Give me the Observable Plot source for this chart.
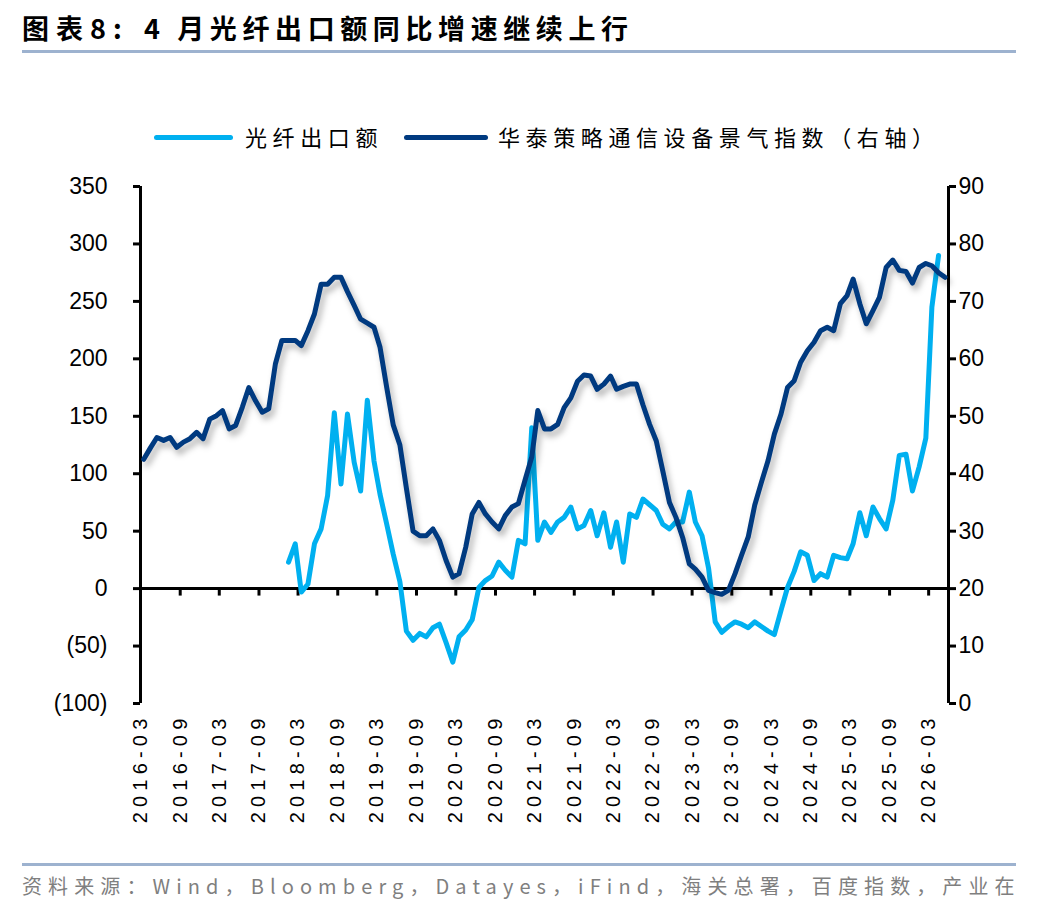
<!DOCTYPE html>
<html>
<head>
<meta charset="utf-8">
<script src="https://cdn.jsdelivr.net/npm/d3@7"></script>
<script src="https://cdn.jsdelivr.net/npm/@observablehq/plot@0.6"></script>
<style>
  body { margin: 0; background: #fff; }
  #page { position: relative; width: 1048px; height: 916px; overflow: hidden;
          font-family: "Noto Sans CJK SC", "Noto Sans", sans-serif; color: #000; }
  .title { position: absolute; top: 14px; font-size: 27px; font-weight: bold; letter-spacing: 5.6px; line-height: 1; white-space: nowrap; }
  .rule { position: absolute; left: 22px; width: 994px; height: 3px; background: #9db2cf; }
  .swatch { position: absolute; height: 5px; border-radius: 3px; top: 135px; }
  .ltext { position: absolute; top: 125px; font-size: 22px; letter-spacing: 5.6px; line-height: 1; white-space: nowrap; }
  #chart { position: absolute; left: 0; top: 160px; }
  .caption { position: absolute; left: 22px; top: 876px; font-size: 20px; color: #7f7f7f; letter-spacing: 6.1px; line-height: 1; white-space: nowrap; }
</style>
</head>
<body>
<div id="page">
  <div class="title" style="left:22px;letter-spacing:7px">图表8:</div>
  <div class="title" style="left:144px">4 月光纤出口额同比增速继续上行</div>
  <div class="rule" style="top:50px"></div>

  <div class="swatch" style="left:154px;width:79px;background:#00b0f0"></div>
  <div class="ltext" style="left:245px">光纤出口额</div>
  <div class="swatch" style="left:404px;width:84px;background:#003a80"></div>
  <div class="ltext" style="left:498px">华泰策略通信设备景气指数（右轴）</div>

  <div id="chart"></div>

  <div class="rule" style="top:863px"></div>
  <div class="caption">资料来源：Wind，Bloomberg，Datayes，iFind，海关总署，百度指数，产业在</div>
</div>
<script>
// Huatai telecom-equipment sentiment index (right axis), monthly from 2016-03
const indexStart = "2016-03";
const indexValues = [
  42.5, 44.5, 46.3, 45.8, 46.3, 44.6, 45.5, 46.1, 47.2, 46.1,
  49.5, 50.1, 51.0, 47.8, 48.4, 51.6, 55.0, 52.7, 50.7, 51.3,
  59.1, 63.2, 63.2, 63.2, 62.3, 64.9, 67.8, 73.0, 73.0, 74.2,
  74.2, 71.7, 69.3, 66.9, 66.2, 65.5, 62.0, 55.0, 48.5, 45.0,
  37.5, 30.0, 29.2, 29.2, 30.4, 28.4, 24.9, 22.0, 22.6, 27.2,
  33.0, 35.0, 33.0, 31.6, 30.4, 32.7, 34.2, 34.8, 38.9, 42.9,
  51.0, 47.8, 47.8, 48.6, 51.5, 53.2, 56.1, 57.2, 57.0, 54.7,
  55.6, 57.0, 54.7, 55.2, 55.6, 55.6, 52.0, 48.6, 45.7, 40.5,
  35.0, 32.4, 28.9, 24.3, 23.4, 22.0, 19.7, 19.3, 19.0, 19.7,
  22.6, 25.8, 29.0, 34.5, 38.5, 42.3, 46.9, 50.4, 55.0, 56.2,
  59.4, 61.4, 62.9, 64.9, 65.5, 64.9, 69.6, 71.0, 73.9, 69.6,
  66.1, 68.4, 70.7, 75.9, 77.2, 75.4, 75.2, 73.2, 75.9, 76.6,
  76.2, 75.0, 74.2
];

// Optical fiber export value, YoY % (left axis), monthly from 2018-01
const exportStart = "2018-01";
const exportGrowth = [
  23, 39, -3, 4, 39, 52, 81, 153, 91, 152,
  110, 85, 164, 111, 82, 56, 30, 6, -37, -45,
  -39, -42, -34, -31, -47, -64, -42, -36, -27, 1,
  7, 11, 23, 16, 10, 42, 39, 140, 42, 58,
  49, 58, 62, 71, 52, 55, 68, 46, 66, 36,
  58, 23, 65, 62, 78, 73, 68, 56, 52, 58,
  58, 84, 58, 46, 18, -29, -38, -33, -29, -31,
  -34, -29, -33, -37, -40, -19, 1, 15, 32, 29,
  7, 13, 10, 29, 27, 26, 39, 66, 46, 71,
  61, 52, 77, 116, 117, 85, 106, 131, 245, 290
];

const xTickLabels = [
  "2016-03", "2016-09", "2017-03", "2017-09", "2018-03", "2018-09", "2019-03",
  "2019-09", "2020-03", "2020-09", "2021-03", "2021-09", "2022-03", "2022-09",
  "2023-03", "2023-09", "2024-03", "2024-09", "2025-03", "2025-09", "2026-03"
];
const axisMonths = ["2016-03", "2026-06"];
const leftTicks = [-100, -50, 0, 50, 100, 150, 200, 250, 300, 350];
const rightTicks = [0, 10, 20, 30, 40, 50, 60, 70, 80, 90];

const parseMonth = d3.utcParse("%Y-%m");
// each monthly value sits at the middle of its month
function monthly(start, values) {
  const t0 = parseMonth(start);
  return values.map((value, i) => ({
    date: d3.utcDay.offset(d3.utcMonth.offset(t0, i), 15),
    value
  }));
}
const indexData = monthly(indexStart, indexValues);
const exportData = monthly(exportStart, exportGrowth);
const xTicks = xTickLabels.map(parseMonth);
const xDomain = axisMonths.map(parseMonth);

// right axis (0–90) shares the left scale: 20 ↔ 0, 90 ↔ 350
const toLeft = v => (v - 20) * 5;
const toRight = v => Math.round(v / 5 + 20);
const fmtLeft = v => v < 0 ? `(${-v})` : `${v}`;

const chart = Plot.plot({
  width: 1048,
  height: 680,
  marginTop: 26,
  marginBottom: 137,
  marginLeft: 140,
  marginRight: 100,
  style: {
    fontFamily: '"Liberation Sans", Arial, sans-serif',
    fontSize: "23px",
    color: "#000",
    background: "transparent",
    overflow: "visible"
  },
  x: { type: "utc", domain: xDomain },
  y: { domain: [-100, 350] },
  marks: [
    Plot.axisY(leftTicks, { anchor: "left", label: null, tickSize: 7, tickPadding: 26, strokeWidth: 3, tickFormat: fmtLeft, fontSize: 23 }),
    Plot.axisY(rightTicks.map(toLeft), { anchor: "right", label: null, tickSize: 7, tickPadding: 3, strokeWidth: 3, tickFormat: toRight, fontSize: 23 }),
    Plot.axisX(xTicks, { anchor: "bottom", label: null, tickSize: 0, tickPadding: 10, tickRotate: -90, tickFormat: d3.utcFormat("%Y-%m"), fontSize: 20 }),
    Plot.ruleX(xDomain, { stroke: "#000", strokeWidth: 3 }),
    Plot.ruleY([0], { stroke: "#000", strokeWidth: 3 }),
    Plot.ruleX(xTicks.slice(1), { y1: 0, y2: -6.5, stroke: "#000", strokeWidth: 3 }),
    Plot.line(exportData, { x: "date", y: "value", stroke: "#00b0f0", strokeWidth: 5 }),
    Plot.line(indexData, { x: "date", y: d => toLeft(d.value), stroke: "#003a80", strokeWidth: 5 })
  ]
});

document.getElementById("chart").appendChild(chart);

// spaced-out date labels and a soft shadow under the index line
d3.select(chart).selectAll('g[aria-label="x-axis tick label"] text').style("letter-spacing", "5.2px");
d3.select(chart).selectAll('g[aria-label="line"]')
  .filter((d, i) => i === 1)
  .style("filter", "drop-shadow(3px 5px 3px rgba(0,0,0,0.3))");
</script>
</body>
</html>
